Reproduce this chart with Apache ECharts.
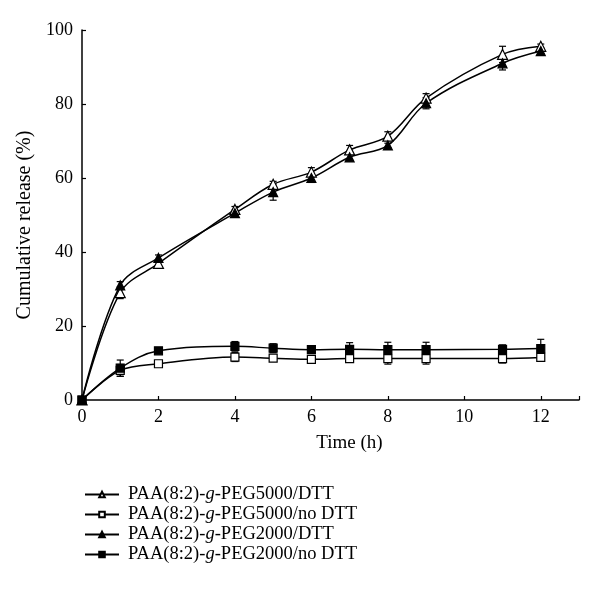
<!DOCTYPE html>
<html>
<head>
<meta charset="utf-8">
<script src="https://cdn.jsdelivr.net/npm/echarts@6/dist/echarts.min.js"></script>
<style>
  html, body { margin: 0; padding: 0; background: #fff; }
  #main { width: 600px; height: 598px; }
</style>
</head>
<body>
<div id="main"></div>
<script>
// time points (h)
var time = [0, 1, 2, 4, 5, 6, 7, 8, 9, 11, 12]
var names = [
  'PAA(8:2)-g-PEG5000/DTT',
  'PAA(8:2)-g-PEG5000/no DTT',
  'PAA(8:2)-g-PEG2000/DTT',
  'PAA(8:2)-g-PEG2000/no DTT'
]
// cumulative release (%)
var peg5000Dtt = [0, 29.0, 36.9, 51.5, 58.3, 61.6, 67.6, 71.3, 81.6, 93.4, 95.6]
var peg5000NoDtt = [0, 8.0, 9.8, 11.6, 11.3, 11.0, 11.2, 11.2, 11.2, 11.2, 11.5]
var peg2000Dtt = [0, 31.0, 38.4, 50.5, 56.2, 60.0, 65.6, 68.8, 80.2, 91.0, 94.3]
var peg2000NoDtt = [0, 8.6, 13.3, 14.5, 14.0, 13.6, 13.7, 13.6, 13.6, 13.7, 13.9]
// error bars (+/-)
var err5000Dtt = [0.5, 1.6, 0.8, 0.8, 0.8, 1.2, 1.2, 1.2, 1.2, 2.2, 0.6]
var err5000NoDtt = [0.5, 1.6, 0.5, 1.2, 0.7, 0.6, 0.8, 1.5, 1.5, 1.2, 0.8]
var err2000Dtt = [0.5, 1.0, 0.8, 0.8, 2.2, 1.2, 1.0, 0.6, 1.5, 1.8, 0.8]
var err2000NoDtt = [0.5, 2.2, 0.6, 1.3, 1.2, 0.8, 1.8, 2.0, 2.0, 1.2, 2.5]

var font = '"Liberation Serif", "DejaVu Serif", serif'

var pairs = (ys) => time.map((t, i) => [t, ys[i]])

let lineSeries = (name, ys, symbol, filled, size) => ({
  name: name,
  type: 'line',
  data: pairs(ys),
  smooth: 0.35,
  symbol: symbol,
  symbolSize: size,
  showAllSymbol: true,
  lineStyle: { color: '#000', width: 1.5 },
  itemStyle: { color: filled ? '#000' : '#fff', borderColor: '#000', borderWidth: 1.2 },
  z: 3
})

let errSeries = (ys, es) => ({
  type: 'custom',
  silent: true,
  data: time.map((t, i) => [t, ys[i] - es[i], ys[i] + es[i]]),
  renderItem: (params, api) => {
    var lo = api.coord([api.value(0), api.value(1)])
    var hi = api.coord([api.value(0), api.value(2)])
    var w = 3.5
    var st = { stroke: '#000', lineWidth: 1.2 }
    return {
      type: 'group',
      children: [
        { type: 'line', shape: { x1: lo[0], y1: lo[1], x2: hi[0], y2: hi[1] }, style: st },
        { type: 'line', shape: { x1: lo[0] - w, y1: lo[1], x2: lo[0] + w, y2: lo[1] }, style: st },
        { type: 'line', shape: { x1: hi[0] - w, y1: hi[1], x2: hi[0] + w, y2: hi[1] }, style: st }
      ]
    }
  },
  z: 2
})

var Chart = echarts.init(document.getElementById('main'))
var option = {
  backgroundColor: '#fff',
  animation: false,
  grid: { left: 82, top: 30, right: 21, bottom: 198 },
  legend: {
    data: names,
    orient: 'vertical',
    left: 79,
    top: 480,
    itemWidth: 34,
    itemHeight: 7,
    itemGap: 1,
    formatter: (n) => {
      var parts = n.split('-g-')
      return '{a|' + parts[0] + '-}{i|g}{a|-' + parts[1] + '}'
    },
    textStyle: {
      padding: [0, 0, 0, 4],
      rich: {
        a: { fontFamily: font, fontSize: 18.5, lineHeight: 19, color: '#000' },
        i: { fontFamily: font, fontSize: 18.5, lineHeight: 19, fontStyle: 'italic', color: '#000' }
      }
    }
  },
  xAxis: {
    type: 'value',
    min: 0,
    max: 13,
    interval: 2,
    name: 'Time (h)',
    nameLocation: 'middle',
    nameGap: 34,
    nameTextStyle: { fontFamily: font, fontSize: 19, color: '#000', padding: [0, 0, 0, 38] },
    axisLine: { onZero: false, lineStyle: { color: '#000', width: 1.5 } },
    axisTick: { inside: true, length: 4, lineStyle: { color: '#000', width: 1.2 } },
    axisLabel: {
      fontFamily: font, fontSize: 18, color: '#000', margin: 8,
      formatter: (v) => (v > 12 ? '' : v)
    },
    splitLine: { show: false }
  },
  yAxis: {
    type: 'value',
    min: 0,
    max: 100,
    interval: 20,
    name: 'Cumulative release (%)',
    nameLocation: 'middle',
    nameGap: 41,
    nameTextStyle: { fontFamily: font, fontSize: 20, color: '#000', padding: [0, 20, 0, 0] },
    axisLine: { show: true, lineStyle: { color: '#000', width: 1.5 } },
    axisTick: { show: true, inside: true, length: 4, lineStyle: { color: '#000', width: 1.2 } },
    axisLabel: { fontFamily: font, fontSize: 18, color: '#000', margin: 9 },
    splitLine: { show: false }
  },
  series: [
    lineSeries(names[0], peg5000Dtt, 'triangle', false, 10),
    lineSeries(names[1], peg5000NoDtt, 'rect', false, 8),
    lineSeries(names[2], peg2000Dtt, 'triangle', true, 9),
    lineSeries(names[3], peg2000NoDtt, 'rect', true, 8),
    errSeries(peg5000Dtt, err5000Dtt),
    errSeries(peg5000NoDtt, err5000NoDtt),
    errSeries(peg2000Dtt, err2000Dtt),
    errSeries(peg2000NoDtt, err2000NoDtt)
  ]
}
Chart.setOption(option)
</script>
</body>
</html>
